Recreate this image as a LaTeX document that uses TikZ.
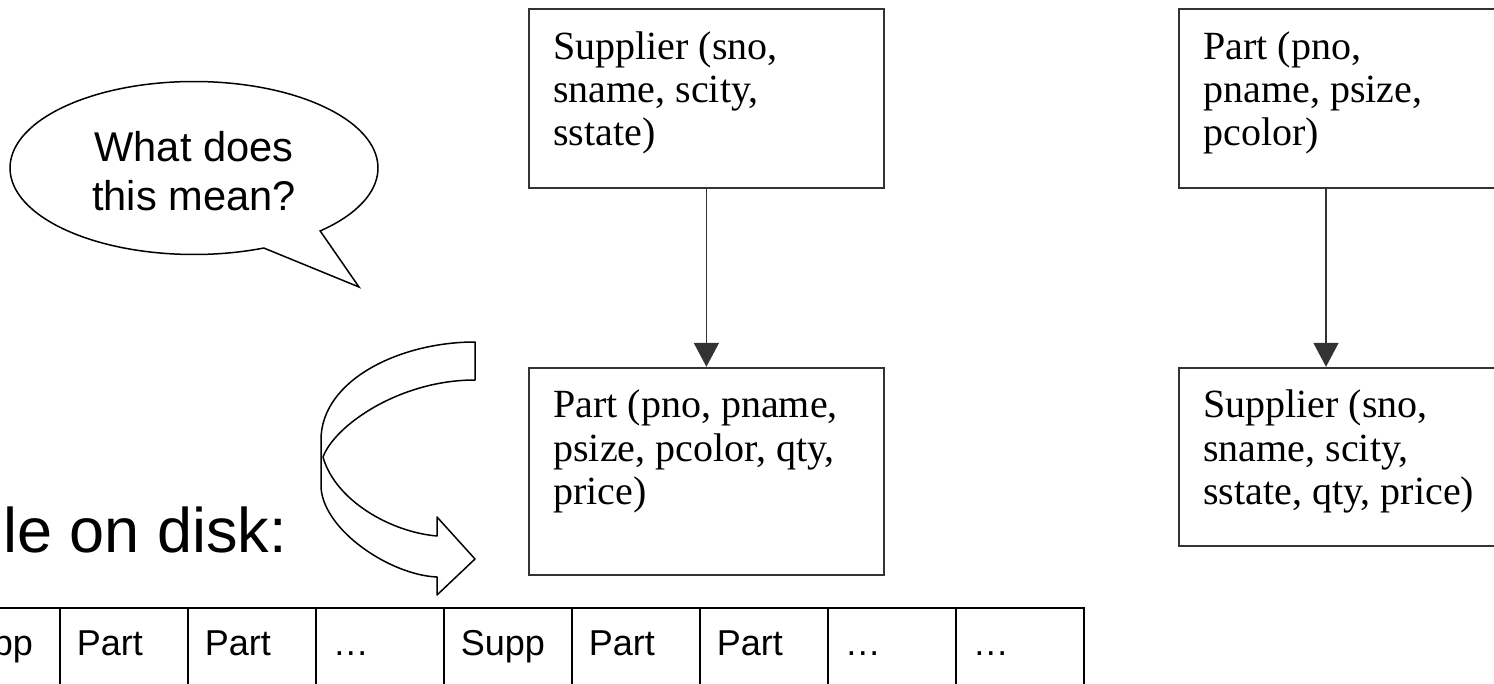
\documentclass[tikz,border=0pt]{standalone}
\usepackage{fontspec}
\setmainfont{Liberation Serif}
\newfontfamily\arialfont{Liberation Sans}
\usetikzlibrary{arrows.meta,positioning}

\begin{document}
\begin{tikzpicture}[
  x=0.5pt, y=-0.5pt,
  relbox/.style={
    draw=black!80,
    line width=0.9pt,
    rectangle,
    anchor=north west,
    minimum width=177.5pt,
    inner sep=0pt
  },
  reltext/.style={
    anchor=north west,
    inner sep=0pt,
    align=left,
    xshift=12.5pt,
    yshift=-11.5pt,
    font=\fontsize{20}{21.6}\selectfont
  },
  link/.style={
    -{Triangle[width=12.5pt,length=12pt]},
    draw=black!80,
    line width=0.9pt
  },
  cell/.style={
    draw=black,
    line width=0.8pt,
    anchor=north west,
    minimum width=64pt,
    minimum height=38.25pt,
    inner xsep=8.5pt,
    inner ysep=0pt,
    text width=47pt,
    align=left,
    text height=13pt,
    text depth=4pt,
    font=\arialfont\fontsize{18}{20}\selectfont
  },
  bubble/.style={
    draw=black,
    line width=0.75pt,
    fill=white
  },
  ribbon/.style={
    draw=black,
    line width=0.75pt,
    fill=white,
    line join=round
  }
]
  \useasboundingbox (0,0) rectangle (1494,684);
  \clip (0,0) rectangle (1494,684);

  % speech bubble
  \draw[bubble] (194,168) ++(46.7:184 and 86.5)
    arc[start angle=46.7, end angle=-292.3, x radius=184, y radius=86.5]
    -- (359,287) -- cycle;
  \node[align=center, font=\arialfont\fontsize{20.8}{24.5}\selectfont]
    (question) at (194,171) {What does\\this mean?};

  % supplier-first nesting
  \node[relbox, minimum height=89.5pt] (suppA) at (528,8) {};
  \node[relbox, minimum height=103.5pt, below=89pt of suppA] (partA) {};
  \node[reltext] (suppAtext) at (suppA.north west)
    {Supplier (sno,\\sname, scity,\\sstate)};
  \node[reltext] (partAtext) at (partA.north west)
    {Part (pno, pname,\\psize, pcolor, qty,\\price)};
  \draw[link] (suppA.south) -- (partA.north);

  % part-first nesting
  \node[relbox, minimum height=89.5pt] (partB) at (1178,8) {};
  \node[relbox, minimum height=89pt, below=89pt of partB] (suppB) {};
  \node[reltext] (partBtext) at (partB.north west)
    {Part (pno,\\pname, psize,\\pcolor)};
  \node[reltext] (suppBtext) at (suppB.north west)
    {Supplier (sno,\\sname, scity,\\sstate, qty, price)};
  \draw[link] ([xshift=74pt]partB.south west) -- ([xshift=74pt]suppB.north west);

  % curved arrow down to the file
  \draw[ribbon] (475,342) .. controls (400,342) and (321,380) .. (321,440)
    -- (321,487) .. controls (323,530) and (390,575) .. (437,577)
    -- (437,595) -- (475,559) -- (437,517) -- (437,536)
    .. controls (390,532) and (335,500) .. (323,457)
    .. controls (335,425) and (400,380) .. (475,380) -- cycle;

  \node[anchor=base west, inner sep=0pt,
    font=\arialfont\fontsize{31.5}{36}\selectfont]
    (disklabel) at (-49.5,552) {File on disk:};

  % records on disk
  \foreach \lbl [count=\i from 0] in {Supp,Part,Part,…,Supp,Part,Part,…,…}
    \node[cell] (cell\i) at (-69+128*\i,607) {\lbl};
\end{tikzpicture}
\end{document}
